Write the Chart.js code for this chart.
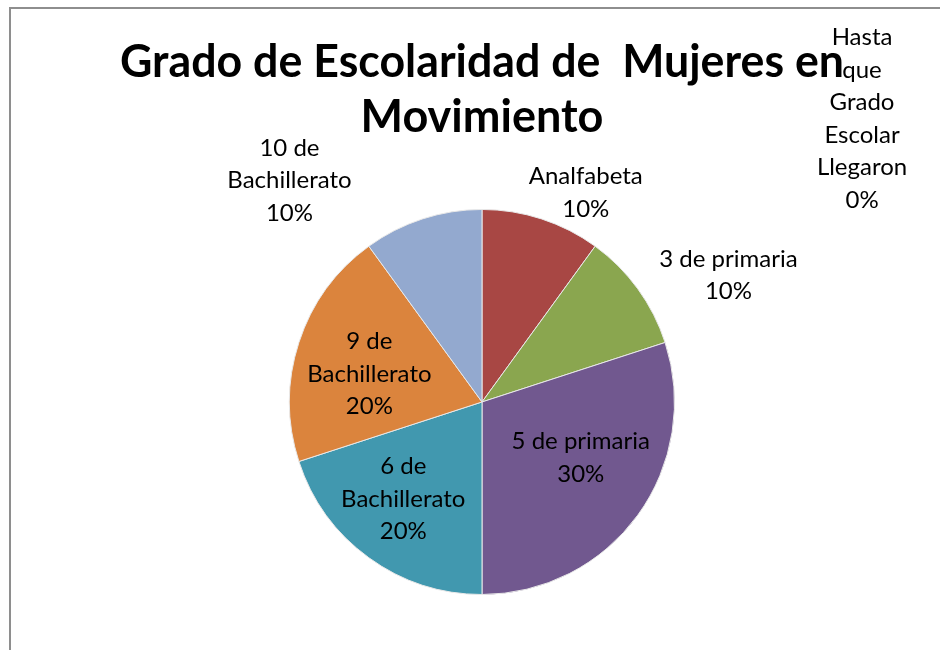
<!DOCTYPE html>
<html>
<head>
<meta charset="utf-8">
<script src="https://cdn.jsdelivr.net/npm/chart.js@4"></script>
<style>
  body { margin: 0; background: #fff; }
  #wrap { position: relative; width: 940px; height: 650px; }
  #frame { position: absolute; left: 9px; top: 7px; right: 0; bottom: 0;
           border-left: 2px solid #8e8e8e; border-top: 2px solid #8e8e8e; }
  canvas { position: absolute; left: 0; top: 0; }
</style>
</head>
<body>
<div id="wrap">
  <div id="frame"></div>
  <canvas id="escolaridad" width="940" height="650"></canvas>
</div>
<script>
// data
const categories = ['Analfabeta', '3 de primaria', '5 de primaria', '6 de Bachillerato',
                    '9 de Bachillerato', '10 de Bachillerato', 'Hasta que Grado Escolar Llegaron'];
const values = [10, 10, 30, 20, 20, 10, 0];
const labelLines = [
  ['Analfabeta'],
  ['3 de primaria'],
  ['5 de primaria'],
  ['6 de', 'Bachillerato'],
  ['9 de', 'Bachillerato'],
  ['10 de', 'Bachillerato'],
  ['Hasta', 'que', 'Grado', 'Escolar', 'Llegaron']
];
const colors = ['#A84744', '#8AA64F', '#71588F', '#4198AF', '#DB843D', '#93A9CF', '#4F81BD'];

// label anchors, relative to pie centre in units of the radius
const labelPos = [
  [0.539, -1.088], [1.280, -0.658], [0.513, 0.290], [-0.409, 0.503],
  [-0.585, -0.145], [-1.0, -1.150], [1.974, -1.472]
];

const FONT = 'Lato, "Open Sans", sans-serif';

const pieLabels = {
  id: 'pieLabels',
  afterDatasetsDraw(chart) {
    const ctx = chart.ctx;
    const meta = chart.getDatasetMeta(0);
    const total = values.reduce((a, b) => a + b, 0);
    ctx.save();
    ctx.fillStyle = '#000';
    ctx.font = '24px ' + FONT;
    ctx.textAlign = 'center';
    ctx.textBaseline = 'middle';
    meta.data.forEach((arc, i) => {
      const r = arc.outerRadius;
      const cx = arc.x + labelPos[i][0] * r;
      const cy = arc.y + labelPos[i][1] * r;
      const lines = labelLines[i].concat([Math.round(values[i] / total * 100) + '%']);
      const lh = 32.5;
      const y0 = cy - (lines.length - 1) * lh / 2;
      lines.forEach((t, k) => ctx.fillText(t, cx, y0 + k * lh));
    });
    ctx.restore();
  }
};

const ctx = document.getElementById('escolaridad').getContext('2d');
const chart = new Chart(ctx, {
  type: 'pie',
  data: {
    labels: categories,
    datasets: [{
      data: values,
      backgroundColor: colors,
      borderColor: '#e8e8e8',
      borderWidth: 1
    }]
  },
  options: {
    responsive: false,
    animation: false,
    layout: { padding: { left: 120, right: 96, top: 0, bottom: 55 } },
    plugins: {
      legend: { display: false },
      tooltip: { enabled: false },
      title: {
        display: true,
        text: ['Grado de Escolaridad de  Mujeres en', 'Movimiento'],
        color: '#000',
        font: { family: FONT, size: 45, weight: 'bold', lineHeight: 1.244 },
        padding: { top: 34, bottom: 63 }
      }
    }
  },
  plugins: [pieLabels]
});
</script>
</body>
</html>
